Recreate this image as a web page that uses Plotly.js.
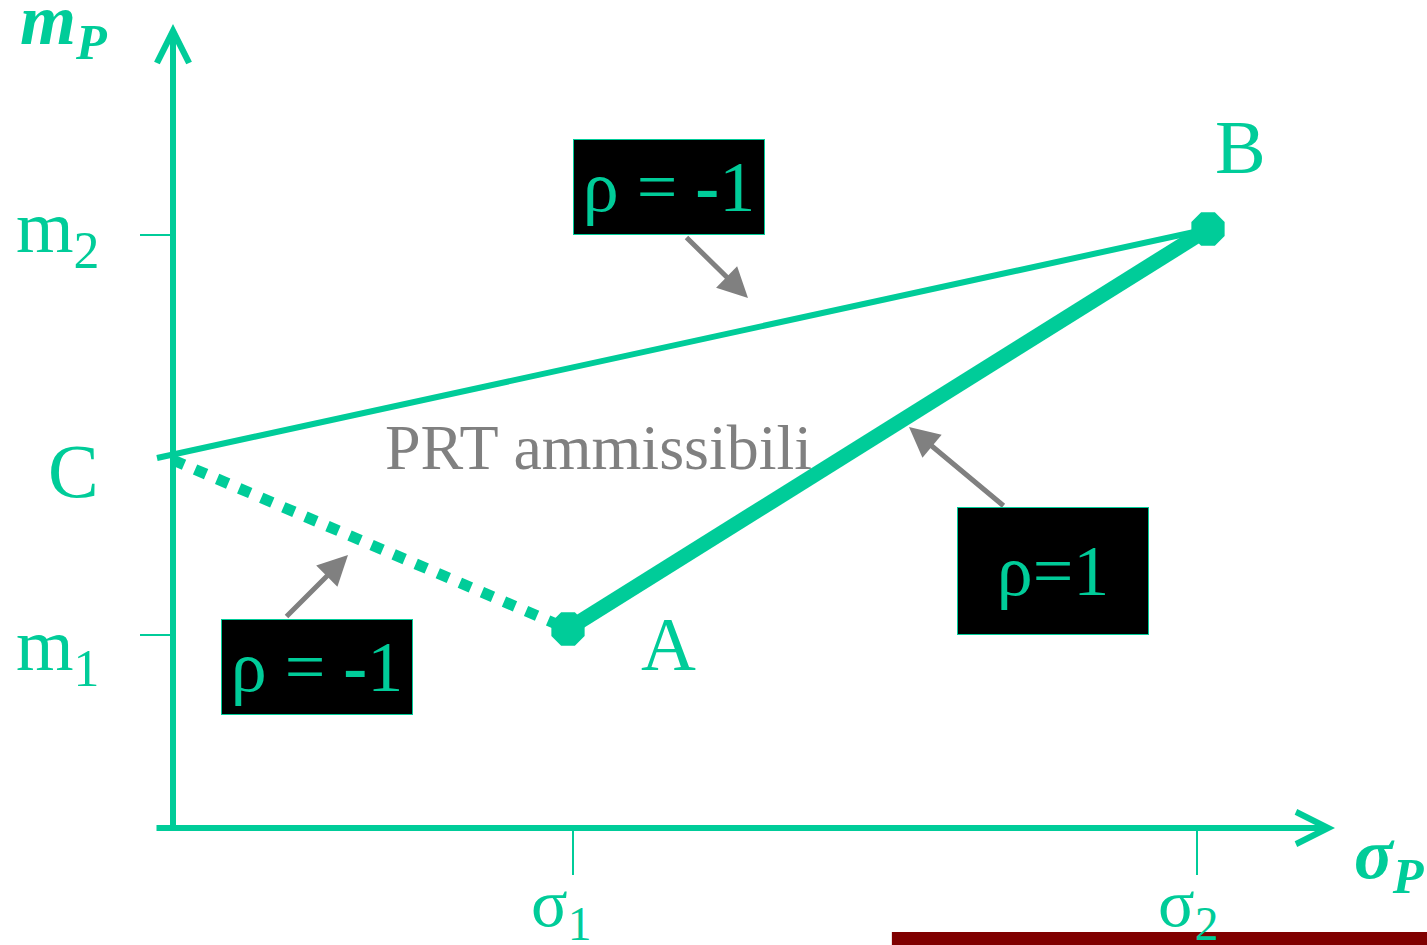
<!DOCTYPE html>
<html>
<head>
<meta charset="utf-8">
<script src="https://cdn.plot.ly/plotly-3.0.1.min.js"></script>
<style>html,body{margin:0;padding:0;background:#fff;}#chart{width:1427px;height:945px;}</style>
</head>
<body>
<div id="chart"></div>
<script>
// ---- data (schematic units: sigma_P horizontally, m_P vertically) ----
const pointNames = ['C', 'A', 'B'];
const pointSigma = [0.0, 3.95, 10.35];
const pointM = [3.70, 1.99, 5.99];

const upperSigma = [-0.16, 10.35];   // rho = -1, C -> B
const upperM = [3.70, 5.99];
const dottedSigma = [0.0, 3.95];     // rho = -1, C -> A
const dottedM = [3.68, 1.99];
const thickSigma = [3.95, 10.35];    // rho = 1, A -> B
const thickM = [1.99, 5.99];

const sigmaTickVals = [4.0, 10.24];
const sigmaTickText = ['σ<sub>1</sub>', 'σ<sub>2</sub>'];
const mTickVals = [1.93, 5.93];
const mTickText = ['m<sub>1</sub>', 'm<sub>2</sub>'];

const axisSigmaEnds = [-0.18, 11.62];
const axisMEnds = [-0.03, 8.04];

const rhoLabels = ['ρ = <b>-</b>1', 'ρ=1', 'ρ = <b>-</b>1'];
const rhoBoxSigma = [4.96, 8.80, 1.44];
const rhoBoxM = [6.41, 2.57, 1.61];
const rhoArrowTailSigma = [5.12, 8.32, 1.12];
const rhoArrowTailM = [5.92, 3.21, 2.10];
const rhoArrowTipSigma = [5.75, 7.36, 1.75];
const rhoArrowTipM = [5.30, 4.01, 2.73];

const regionLabel = 'PRT ammissibili';
const xTitle = '<b><i>σ<sub>P</sub></i></b>';
const yTitle = '<b><i>m<sub>P</sub></i></b>';

// ---- style ----
const TEAL = '#00CC99';
const GRAY = '#808080';
const SERIF = 'Liberation Serif, Times New Roman, serif';

const traces = [];
traces.push({x: upperSigma, y: upperM, mode: 'lines', line: {color: TEAL, width: 6}, hoverinfo: 'skip'});
traces.push({x: dottedSigma, y: dottedM, mode: 'lines', line: {color: TEAL, width: 11, dash: '12px,12px'}, hoverinfo: 'skip'});
traces.push({x: thickSigma, y: thickM, mode: 'lines', line: {color: TEAL, width: 15}, hoverinfo: 'skip'});
traces.push({x: pointSigma.slice(1), y: pointM.slice(1), mode: 'markers',
  marker: {symbol: 'octagon', size: 36, color: TEAL, line: {width: 0}}, hoverinfo: 'skip'});

// tick marks
const tx = [], ty = [];
sigmaTickVals.forEach(v => { tx.push(v, v, null); ty.push(0, -0.47, null); });
mTickVals.forEach(v => { tx.push(-0.33, 0, null); ty.push(v, v, null); });
traces.push({x: tx, y: ty, mode: 'lines', line: {color: TEAL, width: 2}, hoverinfo: 'skip'});

const ann = [];
// axes with chevron heads
ann.push({x: axisSigmaEnds[1], y: 0, ax: axisSigmaEnds[0], ay: 0, xref: 'x', yref: 'y', axref: 'x', ayref: 'y',
  text: '', showarrow: true, arrowhead: 5, arrowsize: 1.05, arrowwidth: 6, arrowcolor: TEAL});
ann.push({x: 0, y: axisMEnds[1], ax: 0, ay: axisMEnds[0], xref: 'x', yref: 'y', axref: 'x', ayref: 'y',
  text: '', showarrow: true, arrowhead: 5, arrowsize: 1.05, arrowwidth: 6, arrowcolor: TEAL});

// tick labels
const sigmaShift = [-12, -9.5];
sigmaTickVals.forEach((v, i) => ann.push({x: v, y: -0.79, xref: 'x', yref: 'y', text: sigmaTickText[i],
  showarrow: false, xanchor: 'center', yanchor: 'middle', xshift: sigmaShift[i],
  font: {family: SERIF, size: 68, color: TEAL}}));
const mShift = [-15.5, 3];
mTickVals.forEach((v, i) => ann.push({x: -0.72, y: v, xref: 'x', yref: 'y', text: mTickText[i],
  showarrow: false, xanchor: 'right', yanchor: 'middle', yshift: mShift[i],
  font: {family: SERIF, size: 74, color: TEAL}}));

// axis titles
ann.push({x: -1.55, y: 8.035, xref: 'x', yref: 'y', text: yTitle, showarrow: false, xanchor: 'left', yanchor: 'middle',
  font: {family: SERIF, size: 72, color: TEAL}});
ann.push({x: 11.79, y: -0.305, xref: 'x', yref: 'y', text: xTitle, showarrow: false, xanchor: 'left', yanchor: 'middle',
  font: {family: SERIF, size: 72, color: TEAL}});

// point labels
const labelDx = [-100, 100, 32];
const labelDy = [-13, -15, 82];
pointNames.forEach((n, i) => ann.push({x: pointSigma[i], y: pointM[i], xref: 'x', yref: 'y', text: n, showarrow: false,
  xanchor: 'center', yanchor: 'middle', xshift: labelDx[i], yshift: labelDy[i],
  font: {family: SERIF, size: 76, color: TEAL}}));

// region label
ann.push({x: 4.25, y: 3.81, xref: 'x', yref: 'y', text: regionLabel, showarrow: false, xanchor: 'center', yanchor: 'middle',
  font: {family: SERIF, size: 64, color: GRAY}});

// rho callout arrows and boxes
const boxH = [94, 126, 94];
rhoLabels.forEach((t, i) => {
  ann.push({x: rhoArrowTipSigma[i], y: rhoArrowTipM[i], ax: rhoArrowTailSigma[i], ay: rhoArrowTailM[i],
    xref: 'x', yref: 'y', axref: 'x', ayref: 'y', text: '', showarrow: true,
    arrowhead: 2, arrowsize: 1.2, arrowwidth: 5, arrowcolor: GRAY});
  ann.push({x: rhoBoxSigma[i], y: rhoBoxM[i], xref: 'x', yref: 'y', text: t, showarrow: false,
    xanchor: 'center', yanchor: 'middle', width: 190, height: boxH[i], borderpad: 0,
    bgcolor: '#000000', bordercolor: TEAL, borderwidth: 1,
    font: {family: SERIF, size: 72, color: TEAL}});
});

const layout = {
  width: 1427, height: 945,
  margin: {l: 0, r: 0, t: 0, b: 0},
  paper_bgcolor: '#ffffff', plot_bgcolor: '#ffffff',
  showlegend: false,
  xaxis: {range: [-1.73, 12.54], visible: false, fixedrange: true},
  yaxis: {range: [-1.17, 8.28], visible: false, fixedrange: true},
  annotations: ann,
  shapes: [{type: 'rect', xref: 'paper', yref: 'paper', x0: 0.625, x1: 1, y0: 0, y1: 0.01376,
    fillcolor: '#800000', line: {width: 0}, layer: 'below'}]
};

Plotly.newPlot('chart', traces, layout, {displayModeBar: false, staticPlot: true});
</script>
</body>
</html>
